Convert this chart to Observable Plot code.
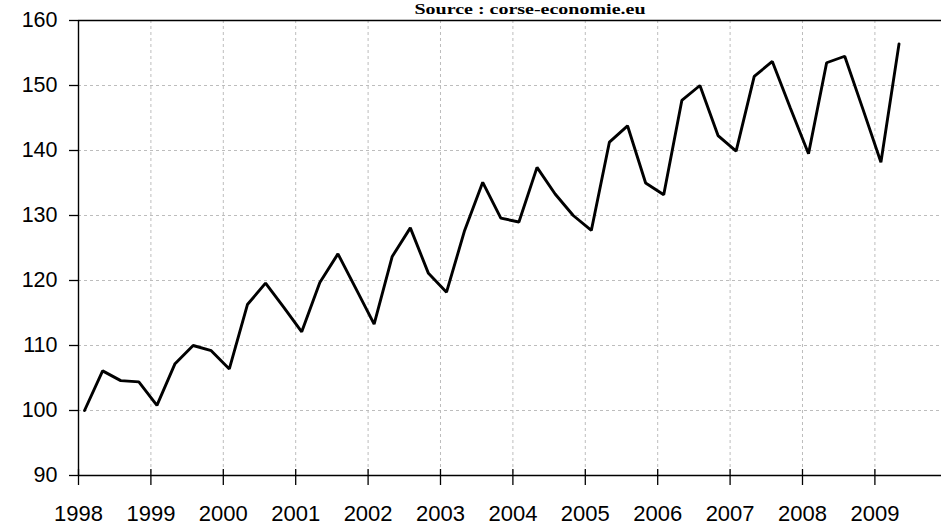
<!DOCTYPE html>
<html>
<head>
<meta charset="utf-8">
<script src="https://cdn.jsdelivr.net/npm/d3@7"></script>
<script src="https://cdn.jsdelivr.net/npm/@observablehq/plot@0.6"></script>
<style>
  html, body { margin: 0; padding: 0; background: #fff; }
  #chart svg { display: block; }
</style>
</head>
<body>
<div id="chart"></div>
<script>
const title = "Source : corse-economie.eu";
const yearTicks = [1998, 1999, 2000, 2001, 2002, 2003, 2004, 2005, 2006, 2007, 2008, 2009];
const valueTicks = [90, 100, 110, 120, 130, 140, 150, 160];
const periodYears = [
  1998, 1998, 1998, 1998, 1999, 1999, 1999, 1999, 2000, 2000, 2000, 2000,
  2001, 2001, 2001, 2001, 2002, 2002, 2002, 2002, 2003, 2003, 2003, 2003,
  2004, 2004, 2004, 2004, 2005, 2005, 2005, 2005, 2006, 2006, 2006, 2006,
  2007, 2007, 2007, 2007, 2008, 2008, 2008, 2008, 2009, 2009
];
const periodQuarters = [
  1, 2, 3, 4, 1, 2, 3, 4, 1, 2, 3, 4,
  1, 2, 3, 4, 1, 2, 3, 4, 1, 2, 3, 4,
  1, 2, 3, 4, 1, 2, 3, 4, 1, 2, 3, 4,
  1, 2, 3, 4, 1, 2, 3, 4, 1, 2
];
const indexValues = [
  100.0, 106.1, 104.6, 104.4,
  100.8, 107.2, 110.0, 109.2,
  106.4, 116.3, 119.6, 115.9,
  112.1, 119.7, 124.1, 118.7,
  113.3, 123.7, 128.1, 121.1,
  118.2, 127.7, 135.1, 129.6,
  129.0, 137.4, 133.3, 130.0,
  127.7, 141.3, 143.8, 135.0,
  133.2, 147.7, 150.0, 142.3,
  139.9, 151.4, 153.7, 146.5,
  139.5, 153.5, 154.5, 146.4,
  138.2, 156.4
];

// each quarterly value is plotted at the second month of its quarter
const data = indexValues.map((v, i) => ({
  t: periodYears[i] + ((periodQuarters[i] - 1) * 3 + 1) / 12,
  v
}));

const font = "'Liberation Sans', Arial, sans-serif";
const gridStyle = {stroke: "#bdbdbd", strokeOpacity: 1, strokeDasharray: "3,3", strokeWidth: 1};

const chart = Plot.plot({
  width: 941,
  height: 526,
  marginLeft: 78,
  marginRight: 0,
  marginTop: 20,
  marginBottom: 51,
  style: {fontFamily: font, fontSize: "22px", color: "#000", background: "#fff"},
  x: {domain: [1998, 2009.92]},
  y: {domain: [90, 160]},
  marks: [
    Plot.gridX(yearTicks.slice(1), gridStyle),
    Plot.gridY(valueTicks.slice(1, -1), gridStyle),
    Plot.ruleY([160], {stroke: "#000", strokeWidth: 1.4}),
    Plot.ruleY([90], {stroke: "#000", strokeWidth: 1.4}),
    Plot.ruleX([1998], {stroke: "#000", strokeWidth: 1.4}),
    // x tick marks crossing the axis
    Plot.axisX(yearTicks, {tickSize: 16, dy: -6, fill: "none", stroke: "#000", strokeWidth: 1.3, label: null}),
    Plot.axisX(yearTicks, {tickSize: 0, tickPadding: 30, tickFormat: d => String(d), fill: "#000", fontSize: 22, label: null}),
    Plot.axisY(valueTicks, {tickSize: 9, fill: "none", stroke: "#000", strokeWidth: 1.3, label: null}),
    Plot.axisY(valueTicks, {tickSize: 0, tickPadding: 21, fill: "#000", fontSize: 21.5, label: null}),
    Plot.line(data, {x: "t", y: "v", stroke: "#000", strokeWidth: 2.9, strokeLinejoin: "miter"}),
    Plot.text([title], {
      frameAnchor: "top", dx: 20, dy: -7, lineAnchor: "bottom",
      fontFamily: "'Liberation Serif', 'Times New Roman', serif",
      fontWeight: "bold", fontSize: 15, fill: "#000"
    })
  ]
});

// stretch the source line to the width it has in the original
d3.select(chart).selectAll("text")
  .filter(function () { return this.textContent === title; })
  .attr("textLength", 231)
  .attr("lengthAdjust", "spacingAndGlyphs");

document.getElementById("chart").appendChild(chart);
</script>
</body>
</html>
